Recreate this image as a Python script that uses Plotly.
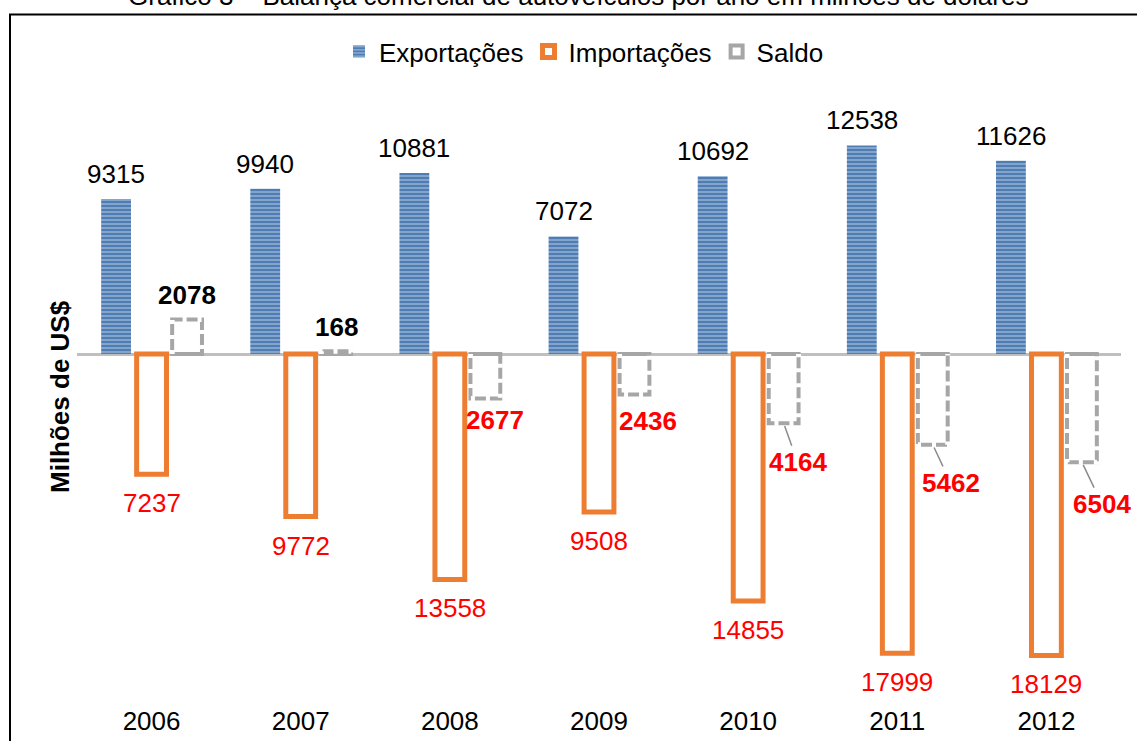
import plotly.graph_objects as go

# ---------------- data ----------------
years = ["2006", "2007", "2008", "2009", "2010", "2011", "2012"]
exportacoes = [9315, 9940, 10881, 7072, 10692, 12538, 11626]
importacoes = [7237, 9772, 13558, 9508, 14855, 17999, 18129]
saldo = [2078, 168, -2677, -2436, -4164, -5462, -6504]

title_text = "Gráfico 3 – Balança comercial de autoveículos por ano em milhões de dólares"
y_title = "Milhões de US$"
series_names = ["Exportações", "Importações", "Saldo"]

# ---------------- style / layout constants ----------------
FONT = "Liberation Sans, Arial, sans-serif"
FS = 26
W, H = 1137, 741
ML, MR, MT, MB = 77, 16, 90, 38
PLOT_H = H - MT - MB
PLOT_W = W - ML - MR
BAR_W = 0.2
OFF = 0.238
Y_TOP, Y_BOT = 15875, -20986

BLUE = "#4f7db3"
BLUE_LIGHT = "#c3d6ec"
ORANGE = "#ed7d31"
GRAY = "#a6a6a6"
RED = "#ff0000"

# saldo label offsets (pixels) and leader flags
saldo_dx = [0, 0, 10, 13, 14, 18, 20]
saldo_dy = [-24, -24, 21, 26, 39, 38, 42]
saldo_leader = [False, False, False, False, True, True, True]


def px_to_paper_x(px):
    return (px - ML) / PLOT_W


def px_to_paper_y(py):
    return (H - MB - py) / PLOT_H


xs = list(range(len(years)))

fig = go.Figure()

fig.add_trace(go.Bar(
    x=xs, y=exportacoes, name=series_names[0],
    width=BAR_W, offset=-OFF - BAR_W / 2,
    marker=dict(color=BLUE,
                pattern=dict(shape="-", fgcolor=BLUE_LIGHT, bgcolor=BLUE,
                             size=4, solidity=0.45, fillmode="overlay"),
                line=dict(width=0)),
))

fig.add_trace(go.Bar(
    x=xs, y=[-v for v in importacoes], name=series_names[1],
    width=BAR_W, offset=-BAR_W / 2,
    marker=dict(color="white", line=dict(color=ORANGE, width=5)),
))

fig.add_trace(go.Bar(
    x=xs, y=saldo, name=series_names[2],
    width=BAR_W, offset=OFF - BAR_W / 2,
    marker=dict(color="rgba(255,255,255,0)", line=dict(color=GRAY, width=4)),
))

# white dashes over the saldo outline to make it look dashed
dx_list, dy_list = [], []
for i, v in zip(xs, saldo):
    x0 = i + OFF - BAR_W / 2
    x1 = x0 + BAR_W
    dx_list += [x0, x0, x1, x1, None]
    dy_list += [0, v, v, 0, None]
fig.add_trace(go.Scatter(
    x=dx_list, y=dy_list, mode="lines", showlegend=False, hoverinfo="skip",
    line=dict(color="white", width=5, dash="4px,11px"),
))

annotations = []
# export labels
for i, v in zip(xs, exportacoes):
    annotations.append(dict(x=i - OFF, y=v, text=str(v), showarrow=False,
                            yshift=25, font=dict(family=FONT, size=FS, color="black")))
# import labels
for i, v in zip(xs, importacoes):
    annotations.append(dict(x=i, y=-v, text=str(v), showarrow=False,
                            yshift=-29, font=dict(family=FONT, size=FS, color=RED)))
# saldo labels
for i, v, dx, dy, lead in zip(xs, saldo, saldo_dx, saldo_dy, saldo_leader):
    col = "black" if v >= 0 else RED
    txt = "<b>%d</b>" % abs(v)
    if lead:
        annotations.append(dict(x=i + OFF, y=v, text=txt, showarrow=True,
                                ax=dx, ay=dy, arrowhead=0, arrowwidth=1.5,
                                arrowcolor="#8c8c8c", standoff=3,
                                font=dict(family=FONT, size=FS, color=col)))
    else:
        annotations.append(dict(x=i + OFF, y=v, text=txt, showarrow=False,
                                xshift=dx, yshift=-dy,
                                font=dict(family=FONT, size=FS, color=col)))

# y-axis title
annotations.append(dict(xref="paper", yref="paper", x=px_to_paper_x(60), y=px_to_paper_y(397),
                        text="<b>%s</b>" % y_title, textangle=-90, showarrow=False,
                        xanchor="center", yanchor="middle",
                        font=dict(family=FONT, size=FS, color="black")))
# clipped chart title at the very top
annotations.append(dict(xref="paper", yref="paper", x=px_to_paper_x(578), y=px_to_paper_y(-4),
                        text=title_text, showarrow=False, xanchor="center", yanchor="middle",
                        font=dict(family=FONT, size=FS, color="black")))

shapes = [dict(type="rect", xref="paper", yref="paper",
               x0=px_to_paper_x(10), x1=px_to_paper_x(W + 20),
               y0=px_to_paper_y(14.5), y1=px_to_paper_y(H + 20),
               line=dict(color="black", width=2), fillcolor="rgba(0,0,0,0)", layer="below")]

fig.update_layout(
    width=W, height=H,
    margin=dict(l=ML, r=MR, t=MT, b=MB, autoexpand=False),
    paper_bgcolor="white", plot_bgcolor="white",
    barmode="overlay",
    font=dict(family=FONT, size=FS, color="black"),
    showlegend=True,
    legend=dict(orientation="h", x=px_to_paper_x(584), xanchor="center",
                y=px_to_paper_y(28), yanchor="top",
                font=dict(family=FONT, size=FS, color="black"),
                itemwidth=30, traceorder="normal", bgcolor="rgba(0,0,0,0)"),
    xaxis=dict(range=[-0.5, len(years) - 0.5], tickmode="array", tickvals=xs, ticktext=years,
               showgrid=False, zeroline=False, showline=False, ticks="",
               tickfont=dict(family=FONT, size=FS, color="black")),
    yaxis=dict(range=[Y_BOT, Y_TOP], showgrid=False, showticklabels=False, ticks="",
               zeroline=True, zerolinecolor="#bfbfbf", zerolinewidth=3, showline=False),
    annotations=annotations,
    shapes=shapes,
)

fig.write_html("out.html")
